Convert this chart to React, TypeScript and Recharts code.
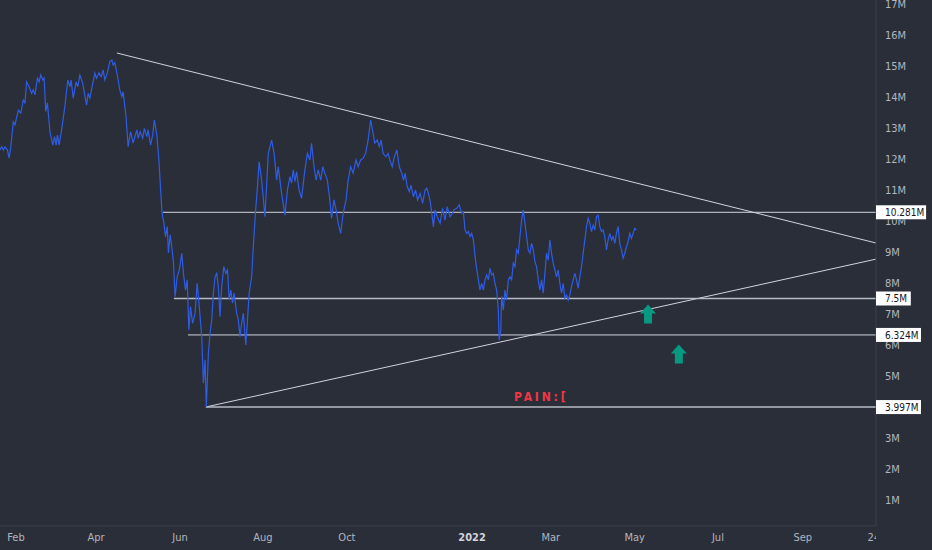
import React from 'react';
import { LineChart, Line, XAxis, YAxis, ReferenceLine, ReferenceDot } from 'recharts';

// x = month position (Jan 2021 = 0), y = value in millions
const rally2021: [number, number][] = [
  [0.76, 12.29], [0.8, 12.4], [0.84, 12.29], [0.88, 12.39], [0.94, 12.29], [0.98, 12.03], [1.02, 12.39],
  [1.08, 13.2], [1.12, 13.1], [1.2, 13.58], [1.26, 13.48], [1.32, 13.9], [1.36, 13.81], [1.4, 14.49],
  [1.46, 14.33], [1.52, 14.12], [1.56, 14.23], [1.6, 14.07], [1.66, 14.61], [1.7, 14.49], [1.74, 14.71],
  [1.79, 14.55], [1.82, 14.61], [1.86, 13.53], [1.9, 13.81], [1.96, 12.88], [2.03, 12.45], [2.07, 12.72],
  [2.11, 12.45], [2.14, 12.77], [2.18, 12.45], [2.24, 12.94], [2.32, 13.69], [2.39, 14.55], [2.44, 14.33],
  [2.47, 14.55], [2.52, 13.96], [2.59, 14.49], [2.63, 14.33], [2.68, 14.71], [2.75, 14.44], [2.79, 14.12],
  [2.84, 13.74], [2.88, 14.12], [2.92, 13.96], [2.99, 14.44], [3.04, 14.77], [3.08, 14.6], [3.14, 14.78],
  [3.19, 14.66], [3.24, 14.87], [3.28, 14.55], [3.34, 14.77], [3.4, 15.14], [3.45, 15.19], [3.48, 15.03],
  [3.52, 15.11], [3.58, 14.71], [3.64, 14.23], [3.69, 14.01], [3.72, 14.17], [3.79, 13.37], [3.84, 12.4],
  [3.9, 12.88], [3.96, 12.51], [4.05, 12.94], [4.08, 12.67], [4.13, 12.88], [4.19, 12.67], [4.23, 12.99],
  [4.29, 12.72], [4.32, 12.94], [4.38, 12.45], [4.43, 12.77], [4.47, 13.26], [4.53, 12.77],
];

const crash2021: [number, number][] = [
  [4.58, 11.97], [4.65, 10.36], [4.67, 10.14], [4.7, 9.94], [4.74, 9.49], [4.78, 9.82], [4.81, 8.97],
  [4.85, 9.55], [4.89, 9.17], [4.93, 8.65], [4.97, 7.56], [5.02, 8.2], [5.07, 8.42], [5.13, 8.96],
  [5.17, 8.31], [5.22, 7.77], [5.26, 8.1], [5.3, 6.48], [5.34, 7.24], [5.39, 6.7], [5.45, 7.02],
  [5.5, 7.99], [5.55, 7.24], [5.61, 6.27], [5.65, 4.77], [5.69, 5.52], [5.72, 4.0], [5.77, 5.73],
  [5.81, 6.38], [5.85, 6.81], [5.89, 7.67], [5.93, 8.2], [5.97, 8.31], [6.01, 7.88], [6.05, 6.91],
  [6.09, 7.88], [6.14, 8.53], [6.19, 8.31], [6.23, 8.42], [6.27, 7.45], [6.31, 7.77], [6.35, 7.35],
  [6.39, 7.67], [6.45, 7.02], [6.49, 6.81], [6.53, 6.27], [6.57, 6.7], [6.61, 7.02], [6.67, 6.0],
  [6.71, 6.81], [6.75, 7.67], [6.81, 8.2], [6.85, 9.17], [6.9, 10.25], [6.95, 11.11], [6.99, 11.91],
];

const autumn2021: [number, number][] = [
  [7.05, 11.32], [7.13, 10.14], [7.21, 12.18], [7.29, 12.61], [7.35, 12.18], [7.41, 11.32], [7.45, 11.75],
  [7.53, 10.89], [7.61, 10.19], [7.67, 11.0], [7.73, 11.43], [7.77, 11.22], [7.81, 11.65], [7.85, 11.27],
  [7.89, 11.59], [7.95, 11.0], [8.01, 10.73], [8.09, 11.65], [8.15, 12.18], [8.21, 11.97], [8.25, 12.51],
  [8.31, 11.75], [8.36, 11.32], [8.41, 11.65], [8.47, 11.32], [8.52, 11.75], [8.57, 11.54], [8.63, 11.32],
  [8.69, 10.68], [8.73, 10.09], [8.79, 10.68], [8.84, 10.36], [8.89, 9.93], [8.95, 9.6], [9.01, 10.25],
  [9.08, 10.68], [9.13, 11.32], [9.19, 11.75], [9.25, 11.54], [9.32, 11.97], [9.37, 11.75], [9.43, 11.97],
  [9.49, 12.02], [9.55, 12.18], [9.61, 12.61], [9.67, 13.26], [9.73, 12.83], [9.77, 12.51], [9.83, 12.61],
  [9.88, 12.4], [9.92, 12.61], [9.97, 12.18], [10.04, 12.07], [10.09, 12.18], [10.13, 11.97], [10.19, 11.75],
  [10.24, 12.07], [10.3, 12.29], [10.36, 11.75], [10.42, 11.54], [10.46, 11.32], [10.5, 11.54], [10.55, 11.11],
  [10.6, 10.95], [10.64, 11.16], [10.7, 10.78], [10.75, 11.0], [10.8, 10.68], [10.86, 10.89], [10.92, 10.57],
  [10.98, 11.0], [11.02, 11.06], [11.07, 10.84], [11.11, 10.57], [11.18, 9.82], [11.22, 10.36], [11.27, 10.14],
  [11.34, 9.93], [11.4, 10.41], [11.46, 10.03], [11.51, 10.46], [11.58, 10.14], [11.64, 10.25], [11.67, 10.36],
  [11.74, 10.41], [11.8, 10.52], [11.86, 10.25], [11.9, 10.3],
];

const spring2022: [number, number][] = [
  [11.94, 9.71], [11.98, 9.6], [12.02, 9.66], [12.06, 9.5], [12.1, 9.6], [12.14, 9.39], [12.2, 8.64],
  [12.26, 8.1], [12.3, 7.77], [12.34, 7.99], [12.38, 7.77], [12.42, 8.1], [12.46, 8.26], [12.5, 8.1],
  [12.54, 8.47], [12.58, 8.26], [12.62, 8.31], [12.66, 7.99], [12.7, 7.77], [12.74, 7.13], [12.76, 6.16],
  [12.8, 6.48], [12.82, 7.56], [12.86, 7.13], [12.9, 7.77], [12.94, 7.45], [12.98, 8.1], [13.02, 8.2],
  [13.06, 8.1], [13.1, 8.64], [13.14, 8.53], [13.18, 9.07], [13.22, 8.96], [13.26, 9.5], [13.3, 10.03],
  [13.34, 10.36], [13.38, 9.93], [13.42, 9.5], [13.46, 9.07], [13.5, 8.96], [13.54, 9.28], [13.58, 9.07],
  [13.62, 8.69], [13.66, 8.53], [13.7, 8.1], [13.74, 7.77], [13.78, 8.1], [13.82, 7.67], [13.86, 8.31],
  [13.9, 8.96], [13.94, 8.74], [13.98, 9.39], [14.02, 8.96], [14.06, 8.64], [14.1, 8.42], [14.14, 8.2],
  [14.18, 8.42], [14.22, 7.99], [14.26, 7.67], [14.3, 7.99], [14.34, 7.51], [14.38, 7.61], [14.42, 7.45],
  [14.46, 7.61], [14.5, 7.88], [14.54, 8.1], [14.58, 8.31], [14.62, 8.1], [14.66, 7.83], [14.7, 8.2],
  [14.74, 8.53], [14.78, 8.96], [14.82, 9.39], [14.86, 9.82], [14.9, 10.09], [14.94, 9.93], [14.98, 9.66],
  [15.02, 9.87], [15.06, 9.71], [15.1, 10.14], [15.14, 10.19], [15.18, 9.82], [15.22, 9.66], [15.26, 9.71],
  [15.3, 9.5], [15.34, 9.07], [15.38, 9.39], [15.42, 9.6], [15.46, 9.39], [15.5, 9.5], [15.54, 9.28],
  [15.58, 9.6], [15.62, 9.82], [15.66, 9.28], [15.7, 9.07], [15.74, 8.8], [15.78, 8.96], [15.82, 9.17],
  [15.86, 9.33], [15.9, 9.6], [15.94, 9.44], [15.98, 9.6], [16.02, 9.76], [16.06, 9.71],
];

// tick positions
const xTicks = [1.145, 3.07, 5.09, 7.08, 9.1, 12.11, 14.0, 16.02, 18.02, 20.06, 21.77];
const xTickLabels = ['Feb', 'Apr', 'Jun', 'Aug', 'Oct', '2022', 'Mar', 'May', 'Jul', 'Sep', '24'];
const yTicks = [1, 2, 3, 4, 5, 6, 7, 8, 9, 10, 11, 12, 13, 14, 15, 16, 17];

const levelValues = [10.281, 7.5, 6.324, 3.997];
const levelLabels = ['10.281M', '7.5M', '6.324M', '3.997M'];
const levelStarts = [4.68, 4.94, 5.28, 5.71];

const upperTrend = [{ x: 3.57, y: 15.42 }, { x: 21.82, y: 9.29 }];
const lowerTrend = [{ x: 5.71, y: 4.0 }, { x: 21.82, y: 8.77 }];

const arrowPoints: [number, number][] = [[16.34, 6.98], [17.08, 5.69]];
const noteText = 'PAIN:[';
const notePoint: [number, number] = [13.12, 4.32];

const data = [...rally2021, ...crash2021, ...autumn2021, ...spring2022].map(([t, v]) => ({ t, v }));

const X_MIN = 0.76;
const X_MAX = 21.82;
const Y_MIN = 0.16;
const Y_MAX = 17.13;
const PLOT_H = 526;
const PX_PER_M = PLOT_H / (Y_MAX - Y_MIN);
const BG = '#2a2e39';
const FONT = "'Liberation Sans Narrow', 'DejaVu Sans Condensed', Roboto, sans-serif";

const charWidth = (c: string) => (c === '.' ? 2.6 : c === 'M' ? 8 : 5.1);
const textWidth = (s: string) => s.split('').reduce((a, c) => a + charWidth(c), 0);

const XTick = (props: any) => {
  const { x, y, payload } = props;
  const i = xTicks.indexOf(payload.value);
  const label = xTickLabels[i] ?? '';
  const bold = label === '2022';
  return (
    <g>
      <defs>
        <clipPath id={`xclip-${i}`}>
          <rect x={0} y={y - 10} width={876} height={30} />
        </clipPath>
      </defs>
      <text
        x={x}
        y={y}
        dy="0.71em"
        textAnchor="middle"
        clipPath={`url(#xclip-${i})`}
        fill={bold ? '#d1d4dc' : '#b2b5be'}
        fontWeight={bold ? 700 : 400}
        fontSize={11}
        fontFamily={FONT}
      >
        {label}
      </text>
    </g>
  );
};

// y tick text, hidden where a level tag box sits on top of it
const YTick = (props: any) => {
  const { x, y, payload } = props;
  const v: number = payload.value;
  let top = y - 10;
  let bottom = y + 10;
  levelValues.forEach((lv) => {
    const ly = y + (v - lv) * PX_PER_M;
    const bTop = ly - 7;
    const bBot = ly + 7;
    if (bBot > top && bTop < bottom) {
      if (ly < y) top = Math.max(top, bBot);
      else bottom = Math.min(bottom, bTop);
    }
  });
  if (bottom - top < 6) return <g />;
  const id = `yclip-${v}`;
  return (
    <g>
      <defs>
        <clipPath id={id}>
          <rect x={x - 2} y={top} width={60} height={bottom - top} />
        </clipPath>
      </defs>
      <text
        x={x}
        y={y}
        dy="0.36em"
        textAnchor="start"
        clipPath={`url(#${id})`}
        fill="#b2b5be"
        fontSize={11}
        fontFamily={FONT}
      >
        {`${v}M`}
      </text>
    </g>
  );
};

const LevelTag = (label: string) => (props: any) => {
  const { cx, cy } = props;
  const w = 9 + textWidth(label) + 5;
  return (
    <g>
      <rect x={cx} y={cy - 7} width={w} height={14} fill="#ffffff" />
      <text x={cx + 9} y={cy} dy="0.36em" fill="#131722" fontSize={10} fontFamily={FONT}>
        {label}
      </text>
    </g>
  );
};

const UpArrow = (props: any) => {
  const { cx, cy } = props;
  const pts = [
    [cx, cy - 10],
    [cx + 8, cy - 1],
    [cx + 4, cy - 1],
    [cx + 4, cy + 9],
    [cx - 4, cy + 9],
    [cx - 4, cy - 1],
    [cx - 8, cy - 1],
  ]
    .map((p) => p.join(','))
    .join(' ');
  return <polygon points={pts} fill="#089981" />;
};

const Note = (props: any) => {
  const { cx, cy } = props;
  return (
    <text
      x={cx}
      y={cy}
      dy="0.36em"
      fill="#f23645"
      fontSize={12}
      fontWeight={700}
      letterSpacing={2.8}
      fontFamily={FONT}
    >
      {noteText}
    </text>
  );
};

export default function App() {
  return (
    <div style={{ position: 'fixed', left: 0, top: 0, width: 932, height: 550, background: BG }}>
      <LineChart width={932} height={550} data={data} margin={{ top: 0, right: 0, bottom: 0, left: 0 }}>
        <XAxis
          dataKey="t"
          type="number"
          domain={[X_MIN, X_MAX]}
          ticks={xTicks}
          interval={0}
          height={24}
          tickSize={0}
          tickMargin={7}
          tickLine={false}
          axisLine={{ stroke: '#3b3f4b' }}
          tick={<XTick />}
        />
        <YAxis
          orientation="right"
          type="number"
          domain={[Y_MIN, Y_MAX]}
          ticks={yTicks}
          interval={0}
          width={56}
          tickSize={0}
          tickMargin={9}
          tickLine={false}
          axisLine={{ stroke: '#3b3f4b' }}
          tick={<YTick />}
        />
        <ReferenceLine segment={upperTrend} stroke="#d1d4dc" strokeWidth={1} />
        <ReferenceLine segment={lowerTrend} stroke="#d1d4dc" strokeWidth={1} />
        {levelValues.map((v, i) => (
          <ReferenceLine
            key={`lvl-${i}`}
            segment={[{ x: levelStarts[i], y: v }, { x: X_MAX, y: v }]}
            stroke={i % 2 === 1 ? '#b8bbc3' : '#d1d4dc'}
            strokeWidth={i % 2 === 1 ? 1.6 : 1}
          />
        ))}
        <Line
          type="linear"
          dataKey="v"
          stroke="#2f5ce6"
          strokeWidth={1.2}
          dot={false}
          activeDot={false}
          isAnimationActive={false}
        />
        {arrowPoints.map(([x, y], i) => (
          <ReferenceDot key={`arr-${i}`} x={x} y={y} r={0} shape={UpArrow} />
        ))}
        <ReferenceDot x={notePoint[0]} y={notePoint[1]} r={0} shape={Note} />
        {levelValues.map((v, i) => (
          <ReferenceDot key={`tag-${i}`} x={X_MAX} y={v} r={0} shape={LevelTag(levelLabels[i])} />
        ))}
      </LineChart>
    </div>
  );
}
